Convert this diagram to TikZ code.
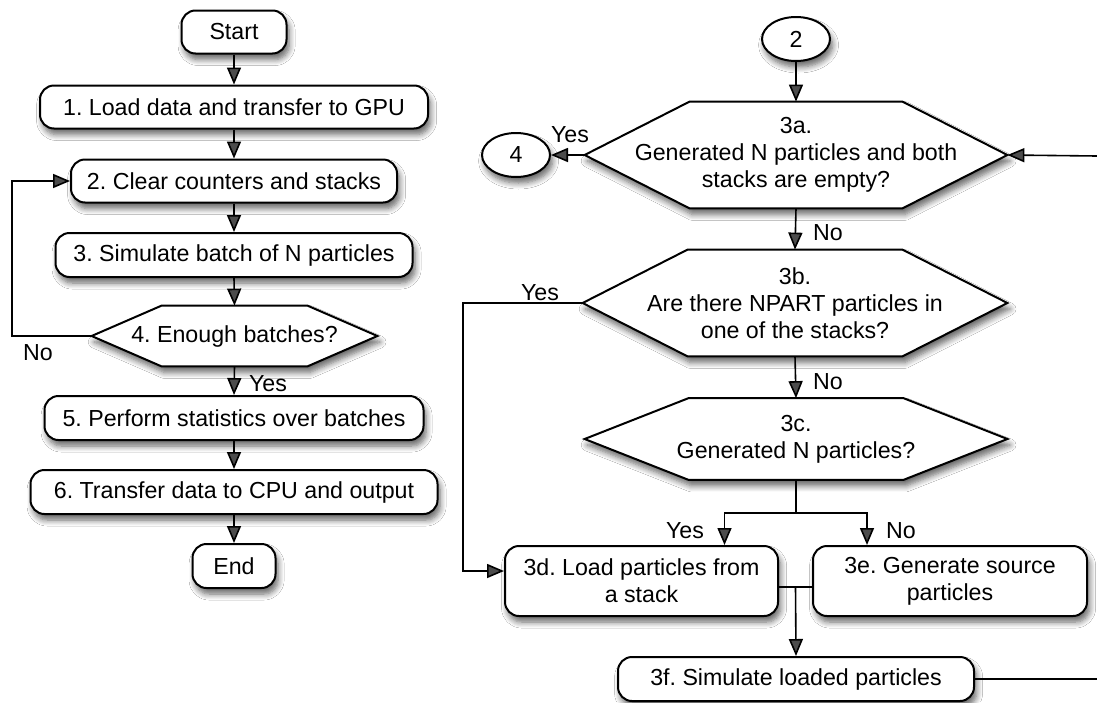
\documentclass[tikz,border=0pt]{standalone}
\usepackage{fontspec}
\setmainfont{Liberation Sans}
\usetikzlibrary{arrows.meta,shapes.geometric,shadows.blur,calc}
\pgfdeclarelayer{background}
\pgfsetlayers{background,main}
\frenchspacing

% font used by every box and label
\newcommand\flowfont{\fontsize{11.6pt}{13.5pt}\selectfont}

% six-sided decision outline around a (borderless) rectangle node
\newcommand\hexoutline[2]{%
  \draw[hexline] (#1.west) -- ([xshift=#2]#1.north west) -- ([xshift=-#2]#1.north east)
    -- (#1.east) -- ([xshift=-#2]#1.south east) -- ([xshift=#2]#1.south west) -- cycle;}

\tikzset{
  softshadow/.style={blur shadow={shadow xshift=1.3pt, shadow yshift=-3pt,
      shadow opacity=60, shadow blur steps=7, shadow blur radius=3pt}},
  box/.style={draw, line width=1pt, fill=white, rounded corners=7pt, align=center,
      inner sep=0pt, font=\flowfont, softshadow},
  hexbox/.style={shape=rectangle, align=center, inner sep=0pt, font=\flowfont},
  hexline/.style={draw, line width=1pt, fill=white, line join=miter, softshadow},
  conn/.style={ellipse, draw, line width=1pt, fill=white, minimum width=34pt,
      minimum height=22pt, inner sep=0pt, font=\flowfont, softshadow},
  link/.style={draw, line width=0.8pt},
  flow/.style={link, -{Triangle[length=8.5pt,width=7pt]}},
  lbl/.style={inner sep=0pt, font=\flowfont},
}

\begin{document}
\begin{tikzpicture}[x=0.5pt, y=-0.5pt]
\useasboundingbox (0,0) rectangle (1097,702);

% ---- main loop (left column)
\node[box, minimum width=52.5pt, minimum height=21.5pt] (start) at (234,32) {Start};
\node[box, minimum width=194pt, minimum height=21.5pt] (s1) at (234,107) {1. Load data and transfer to GPU};
\node[box, minimum width=163pt, minimum height=21.5pt] (s2) at (234,181) {2. Clear counters and stacks};
\node[box, minimum width=178.5pt, minimum height=22pt] (s3) at (234,255) {3. Simulate batch of N particles};
\node[hexbox, minimum width=142.5pt, minimum height=30pt] (q4) at (234.5,336) {4. Enough batches?};
\node[box, minimum width=189.5pt, minimum height=22pt] (s5) at (234,418) {5. Perform statistics over batches};
\node[box, minimum width=203.5pt, minimum height=22pt] (s6) at (234,492) {6. Transfer data to CPU and output};
\node[box, minimum width=41.5pt, minimum height=22pt] (stop) at (234,566) {End};

% ---- step 3 in detail (right column)
\node[conn] (c2) at (796,39) {2};
\node[conn] (c4) at (516,155) {4};
\node[hexbox, minimum width=211pt, minimum height=53pt] (q3a) at (796,155)
  {3a.\\Generated N particles and both\\stacks are empty?};
\node[hexbox, minimum width=212pt, minimum height=53pt] (q3b) at (795,303)
  {3b.\\Are there NPART particles in\\one of the stacks?};
\node[hexbox, minimum width=211pt, minimum height=40.5pt] (q3c) at (796,439)
  {3c.\\Generated N particles?};
\node[box, minimum width=136.5pt, minimum height=35pt] (s3d) at (641.5,581) {3d. Load particles from\\a stack};
\node[box, minimum width=137pt, minimum height=35pt] (s3e) at (950,581) {3e. Generate source\\particles};
\node[box, minimum width=178pt, minimum height=22pt] (s3f) at (796,679) {3f. Simulate loaded particles};

\begin{pgfonlayer}{background}
  \fill[white] (0,0) rectangle (1097,702);
  \hexoutline{q4}{35pt}
  \hexoutline{q3a}{52.5pt}
  \hexoutline{q3b}{52.5pt}
  \hexoutline{q3c}{52pt}
\end{pgfonlayer}

% ---- connectors, left column
\draw[flow] (start.south) -- (s1.north);
\draw[flow] (s1.south) -- (s2.north);
\draw[flow] (s2.south) -- (s3.north);
\draw[flow] (s3.south) -- (q4.north);
\draw[flow] (q4.south) -- (s5.north);
\draw[flow] (s5.south) -- (s6.north);
\draw[flow] (s6.south) -- (stop.north);
\draw[flow] (q4.west) -- (12,336) |- (s2.west);
\node[lbl] (noLoop) at (38,353) {No};
\node[lbl] (yes4) at (268,384) {Yes};

% ---- connectors, right column
\draw[flow] (c2.south) -- (q3a.north);
\draw[flow] (q3a.west) -- (c4.east);
\draw[flow] (q3a.south) -- (q3b.north);
\draw[flow] (q3b.south) -- (q3c.north);
\draw[flow] (q3b.west) -- (463,303) |- ([yshift=5pt]s3d.west);
\draw[link] (q3c.south) -- (796,513) coordinate (fork);
\draw[flow] (fork) -| ([xshift=41.5pt]s3d.north);
\draw[flow] (fork) -| ([xshift=-41.5pt]s3e.north);
\draw[link] ([yshift=-3pt]s3d.east) -- ([yshift=-3pt]s3e.west);
\draw[flow] ($([yshift=-3pt]s3d.east)!0.5!([yshift=-3pt]s3e.west)$) -- (s3f.north);
\coordinate (edgeIn) at (1097,156);
\coordinate (edgeOut) at (1097,679);
\draw[flow] (edgeIn) -- (q3a.east);
\draw[link] (s3f.east) -- (edgeOut);

\node[lbl] (yes3a) at (570,135) {Yes};
\node[lbl] (no3a) at (828,233) {No};
\node[lbl] (yes3b) at (540,293) {Yes};
\node[lbl] (no3b) at (828,382) {No};
\node[lbl] (yes3c) at (685,531) {Yes};
\node[lbl] (no3c) at (901,531) {No};
\end{tikzpicture}
\end{document}
